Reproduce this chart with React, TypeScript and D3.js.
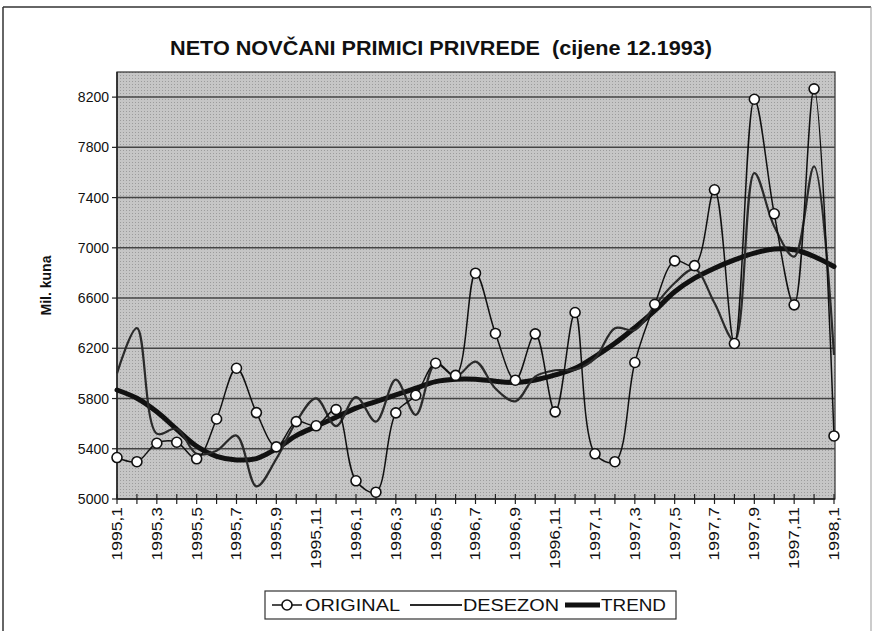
import React from "react";
import * as d3 from "d3";

const months: string[] = [
  "1995,1","1995,2","1995,3","1995,4","1995,5","1995,6","1995,7","1995,8","1995,9","1995,10","1995,11","1995,12",
  "1996,1","1996,2","1996,3","1996,4","1996,5","1996,6","1996,7","1996,8","1996,9","1996,10","1996,11","1996,12",
  "1997,1","1997,2","1997,3","1997,4","1997,5","1997,6","1997,7","1997,8","1997,9","1997,10","1997,11","1997,12",
  "1998,1",
];

const original: number[] = [
  5330, 5297, 5444, 5452, 5320, 5637, 6041, 5688, 5415, 5616, 5583, 5712,
  5145, 5054, 5686, 5826, 6081, 5984, 6798, 6318, 5946, 6315, 5694, 6485,
  5360, 5297, 6087, 6550, 6896, 6858, 7462, 6238, 8183, 7271, 6546, 8266,
  5502,
];

const desezon: number[] = [
  6000, 6360, 5520, 5560, 5360, 5385, 5505, 5100, 5320, 5615, 5802, 5580,
  5812, 5616, 5950, 5670, 6081, 5975, 6094, 5880, 5778, 5975, 6025, 6030,
  6120, 6360, 6345, 6540, 6720, 6830, 6560, 6260, 7595, 7170, 6930, 7648,
  6147,
];

const trend: number[] = [
  5868, 5802, 5694, 5555, 5420, 5340, 5311, 5322, 5400, 5505, 5578, 5651,
  5723, 5775, 5829, 5882, 5935, 5954, 5954, 5938, 5928, 5948, 5988, 6041,
  6134, 6240, 6365, 6500, 6650, 6758, 6838, 6904, 6958, 6990, 6984, 6931,
  6851,
];

const yTicks: number[] = [5000, 5400, 5800, 6200, 6600, 7000, 7400, 7800, 8200];

const FONT = "'Liberation Sans', Arial, sans-serif";

export default function App() {
  const W = 877, H = 631;
  const left = 117, right = 835, top = 72, bottom = 499;
  const x = d3.scaleLinear().domain([0, months.length - 1]).range([left, right - 1]);
  const y = d3.scaleLinear().domain([5000, 8400]).range([bottom, top]);

  const line = (vals: number[]) =>
    d3.line<number>().x((_, i) => x(i)).y((v) => y(v)).curve(d3.curveCatmullRom.alpha(0.5))(vals) || "";

  const ly = 605;

  return (
    <svg width={W} height={H} style={{ position: "absolute", left: 0, top: 0, background: "#fff" }}>
      <defs>
        <pattern id="dots" width="3" height="3" patternUnits="userSpaceOnUse">
          <rect width="3" height="3" fill="#c6c6c6" />
          <rect width="1" height="1" fill="#9c9c9c" />
        </pattern>
      </defs>
      {/* outer frame */}
      <line x1={3} y1={7} x2={871} y2={7} stroke="#333" strokeWidth={1.5} />
      <line x1={3} y1={7} x2={3} y2={631} stroke="#333" strokeWidth={1.5} />
      <line x1={871} y1={7} x2={871} y2={631} stroke="#999" strokeWidth={1} />

      <text
        x={170}
        y={55}
        textLength={542}
        lengthAdjust="spacingAndGlyphs"
        fontFamily={FONT}
        fontWeight="bold"
        fontSize={20}
        fill="#111"
        style={{ whiteSpace: "pre" }}
      >
        {"NETO NOVČANI PRIMICI PRIVREDE  (cijene 12.1993)"}
      </text>

      <rect x={left} y={top} width={right - left} height={bottom - top} fill="url(#dots)" stroke="#333" strokeWidth={1.2} />

      {yTicks.map((t) => (
        <g key={t}>
          {t > 5000 && <line x1={left} x2={right} y1={y(t)} y2={y(t)} stroke="#444" strokeWidth={1.5} />}
          <line x1={left - 5} x2={left} y1={y(t)} y2={y(t)} stroke="#222" strokeWidth={1.2} />
          <text x={left - 8} y={y(t)} dy="0.36em" textAnchor="end" fontFamily={FONT} fontSize={14} fill="#111">
            {t}
          </text>
        </g>
      ))}

      <line x1={left} x2={left} y1={top} y2={bottom} stroke="#222" strokeWidth={1.5} />
      <line x1={left} x2={right} y1={bottom} y2={bottom} stroke="#222" strokeWidth={1.5} />
      {months.map((m, i) => (
        <g key={m}>
          <line x1={x(i)} x2={x(i)} y1={bottom - 5} y2={bottom + 5} stroke="#222" strokeWidth={1.2} />
          {i % 2 === 0 && (
            <text
              transform={`translate(${x(i)},${bottom + 8}) rotate(-90) scale(1.25,1)`}
              textAnchor="end"
              dy="0.35em"
              fontFamily={FONT}
              fontSize={14}
              fill="#111"
            >
              {m}
            </text>
          )}
        </g>
      ))}

      <text transform={`translate(51,${(top + bottom) / 2}) rotate(-90)`} textAnchor="middle" fontFamily={FONT} fontWeight="bold" fontSize={14} fill="#111">
        Mil. kuna
      </text>

      <path d={line(trend)} fill="none" stroke="#111" strokeWidth={5} strokeLinecap="round" />
      <path d={line(desezon)} fill="none" stroke="#2a2a2a" strokeWidth={2.2} />
      <path d={line(original)} fill="none" stroke="#111" strokeWidth={1.5} />
      {original.map((v, i) => (
        <circle key={i} cx={x(i)} cy={y(v)} r={5} fill="#fff" stroke="#111" strokeWidth={1.6} />
      ))}

      {/* legend */}
      <g>
        <rect x={265} y={591} width={411} height={28} fill="#fff" stroke="#333" strokeWidth={1.2} />
        <line x1={272} x2={302} y1={ly} y2={ly} stroke="#111" strokeWidth={1.5} />
        <circle cx={287} cy={ly} r={5} fill="#fff" stroke="#111" strokeWidth={1.6} />
        <text x={305} y={ly} dy="0.36em" textLength={95} lengthAdjust="spacingAndGlyphs" fontFamily={FONT} fontSize={16} fill="#111">ORIGINAL</text>
        <line x1={410} x2={462} y1={ly} y2={ly} stroke="#2a2a2a" strokeWidth={2.2} />
        <text x={463} y={ly} dy="0.36em" textLength={96} lengthAdjust="spacingAndGlyphs" fontFamily={FONT} fontSize={16} fill="#111">DESEZON</text>
        <line x1={565} x2={600} y1={ly} y2={ly} stroke="#111" strokeWidth={5} />
        <text x={601} y={ly} dy="0.36em" textLength={65} lengthAdjust="spacingAndGlyphs" fontFamily={FONT} fontSize={16} fill="#111">TREND</text>
      </g>
    </svg>
  );
}
